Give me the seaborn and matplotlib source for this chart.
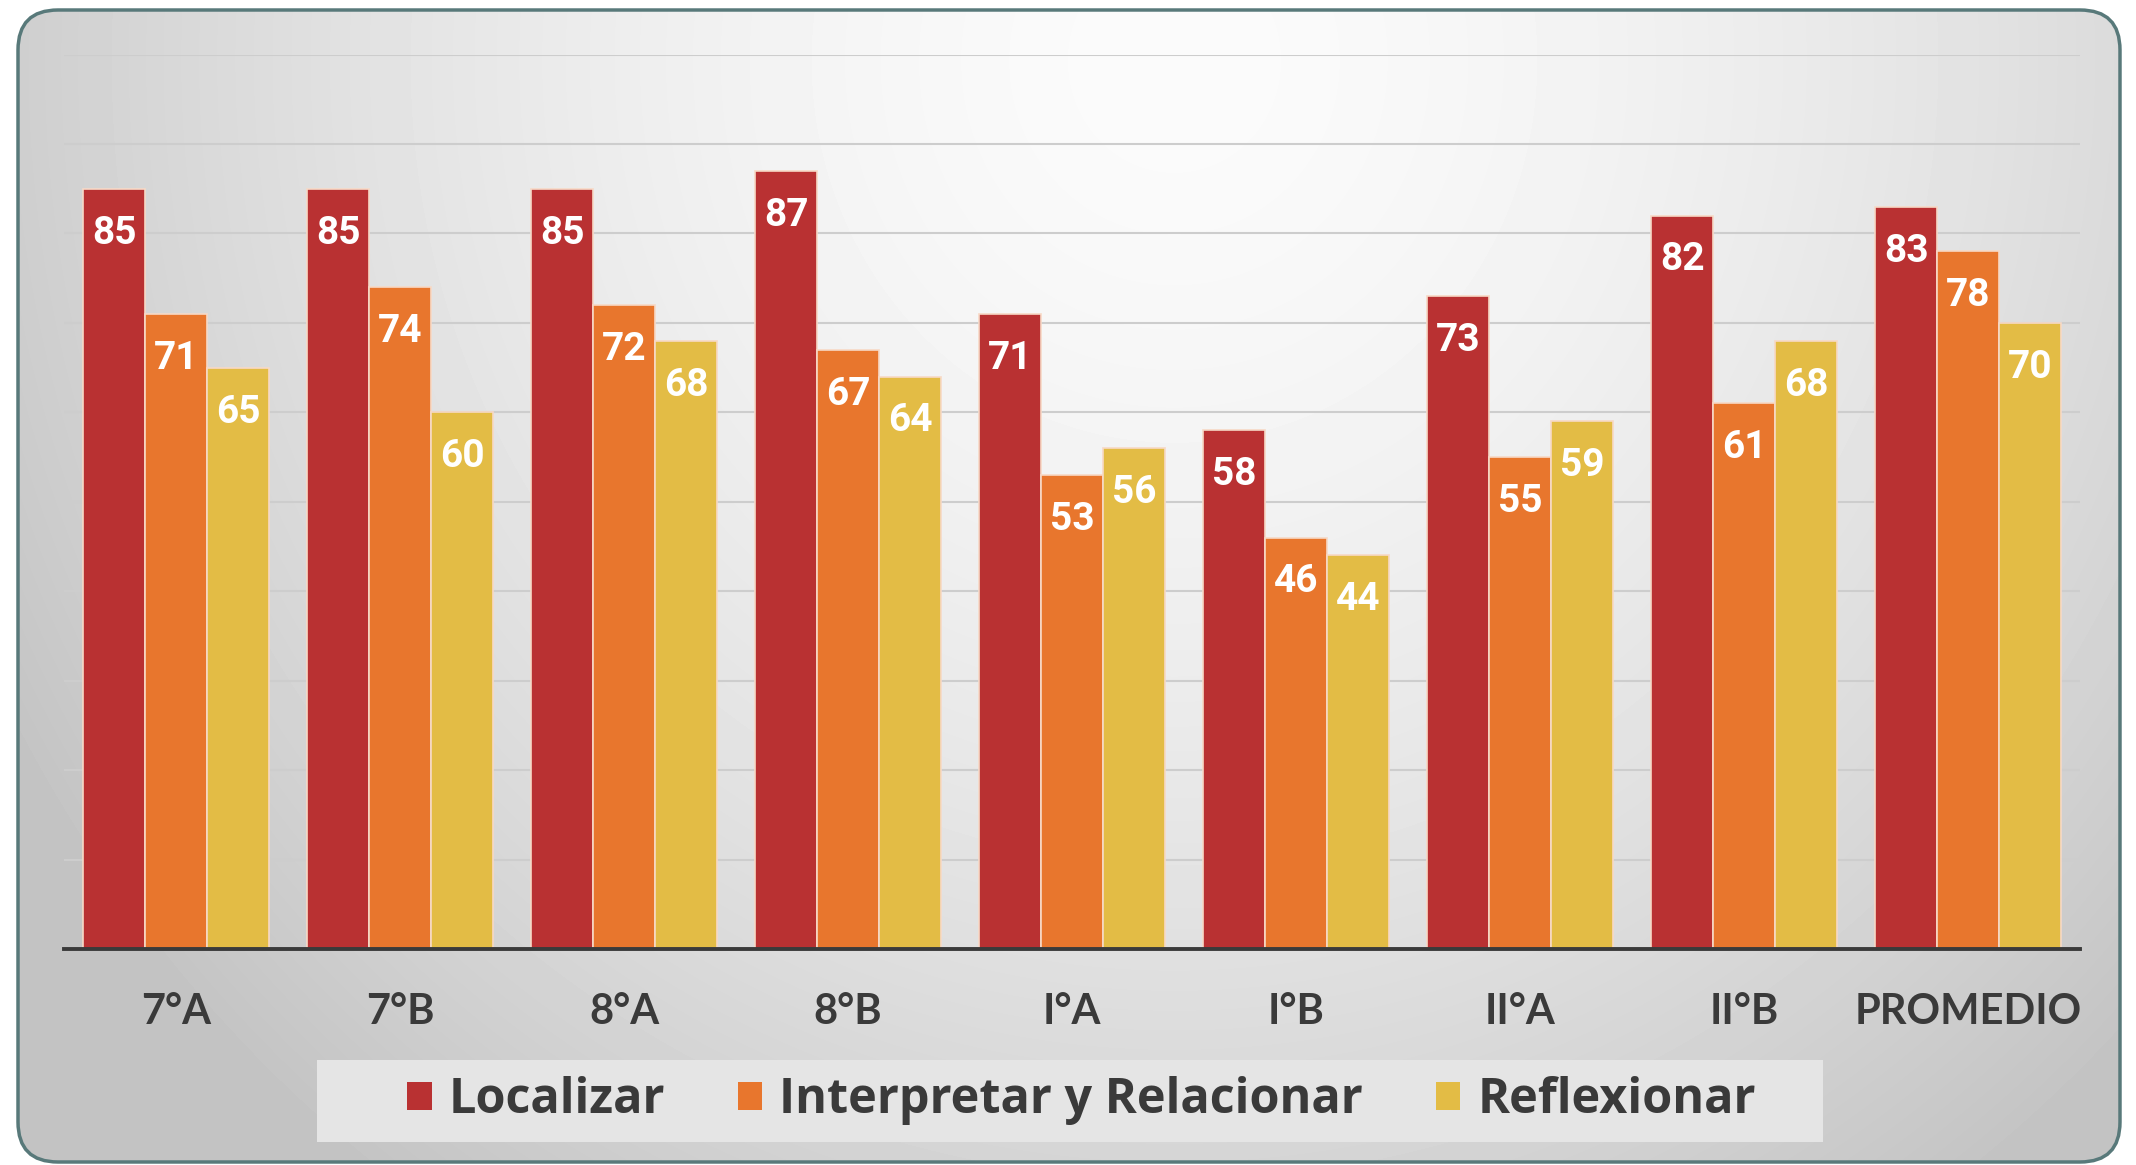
import numpy as np
import pandas as pd
import matplotlib
matplotlib.use('Agg')
import matplotlib.pyplot as plt
from matplotlib.patches import FancyBboxPatch, Rectangle, Patch
import seaborn as sns

# datos
cursos = ['7°A', '7°B', '8°A', '8°B', 'I°A', 'I°B', 'II°A', 'II°B', 'PROMEDIO']
localizar = [85, 85, 85, 87, 71, 58, 73, 82, 83]
interpretar = [71, 74, 72, 67, 53, 46, 55, 61, 78]
reflexionar = [65, 60, 68, 64, 56, 44, 59, 68, 70]
habilidades = ['Localizar', 'Interpretar y Relacionar', 'Reflexionar']
colores = ['#B93132', '#E8762D', '#E3BC45']

tabla = pd.DataFrame({
    'curso': cursos * 3,
    'puntaje': localizar + interpretar + reflexionar,
    'habilidad': [h for h in habilidades for _ in cursos],
})

sns.set_theme(style='white')
plt.rcParams['font.family'] = ['Lato', 'DejaVu Sans']

W, H = 2136, 1165
fig = plt.figure(figsize=(W / 100, H / 100), dpi=100)
fig.patch.set_facecolor('white')

# fondo con degradado y borde redondeado
fondo = fig.add_axes([0, 0, 1, 1], zorder=0)
fondo.set_xlim(0, W)
fondo.set_ylim(0, H)
fondo.axis('off')
xx, yy = np.meshgrid(np.linspace(0, 1, 400), np.linspace(0, 1, 220))
t = np.sqrt(((xx - 0.55) / 0.62) ** 2 + ((yy - 0.05) / 1.2) ** 2)
t = np.clip(t, 0, 1)
gris = (251 - 55 * t ** 1.6) / 255
caja = FancyBboxPatch((18, 3), 2102, 1152, boxstyle='round,pad=0,rounding_size=40',
                      facecolor='none', edgecolor='#58797A', linewidth=2.5, zorder=3)
img = fondo.imshow(gris, cmap='gray', vmin=0, vmax=1, extent=[0, W, 0, H],
                   aspect='auto', zorder=1, interpolation='bicubic')
fondo.add_patch(caja)
img.set_clip_path(caja)

# caja de la leyenda
fondo.add_patch(Rectangle((317, 23), 1506, 82, facecolor='#E5E5E5',
                          edgecolor='none', zorder=2))

ax = fig.add_axes([0.030, 0.1854, 0.9438, 0.7678], zorder=2)
ax.set_facecolor('none')
sns.barplot(data=tabla, x='curso', y='puntaje', hue='habilidad', palette=colores,
            width=0.83, saturation=1, edgecolor='#F7D9C6', linewidth=1.2,
            legend=False, ax=ax, zorder=3)

ax.set_ylim(0, 100)
ax.set_xlim(-0.5, len(cursos) - 0.5)
ax.set_yticks(np.arange(0, 101, 10))
ax.set_yticklabels([])
ax.yaxis.grid(True, color='#CDCDCD', linewidth=1.5)
ax.set_axisbelow(True)
for lado in ['top', 'right', 'left']:
    ax.spines[lado].set_visible(False)
ax.spines['bottom'].set_color('#3A3A3A')
ax.spines['bottom'].set_linewidth(2.8)
ax.spines['bottom'].set_zorder(5)
ax.tick_params(axis='both', length=0)
ax.tick_params(axis='x', pad=32, labelsize=30, labelcolor='#3A3A3A')
for lbl in ax.get_xticklabels():
    lbl.set_fontweight('bold')
ax.set_xlabel('')
ax.set_ylabel('')

for cont in ax.containers:
    for barra in cont:
        valor = barra.get_height()
        ax.annotate(f'{valor:.0f}', (barra.get_x() + barra.get_width() / 2, valor),
                    xytext=(0, -32), textcoords='offset points', ha='center', va='center',
                    color='white', fontsize=28, fontweight='bold',
                    family=['Roboto', 'DejaVu Sans'], zorder=6)

marcas = [Patch(facecolor=c, edgecolor='none') for c in colores]
fig.legend(marcas, habilidades, loc='center', bbox_to_anchor=(0.5064, 0.055), ncol=3,
           frameon=False, prop={'family': ['Open Sans', 'DejaVu Sans'], 'weight': 'bold', 'size': 35},
           labelcolor='#3A3A3A', handlelength=0.5, handleheight=0.5, handletextpad=0.35,
           columnspacing=1.5)

fig.savefig('out.png', dpi=100)
